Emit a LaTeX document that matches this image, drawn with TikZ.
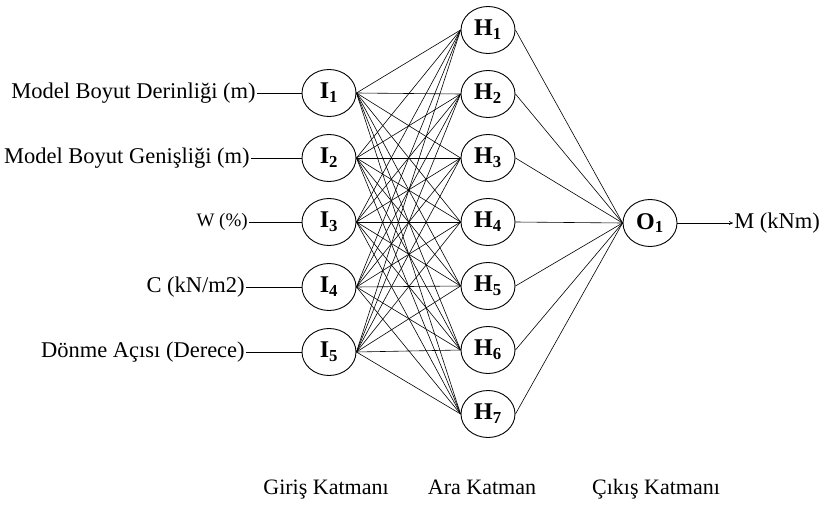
\documentclass[tikz,border=0pt]{standalone}
\usepackage{fontspec}
\setmainfont{Liberation Serif}
\usetikzlibrary{arrows.meta,positioning,calc,shapes.geometric}

\begin{document}
\begin{tikzpicture}[x=1pt,y=-1pt,>={To[length=4pt,width=4pt]},line width=0.6pt,
  neu/.style={draw,ellipse,line width=0.9pt,minimum width=54pt,minimum height=47pt,inner sep=0pt,
    font=\fontsize{24}{28}\selectfont\bfseries},
  lbl/.style={font=\fontsize{22.5}{26}\selectfont,inner sep=1pt},
  lay/.style={font=\fontsize{22}{26}\selectfont,anchor=base}]
\useasboundingbox (0,0) rectangle (826,505);
% input layer
\node[neu] (I1) at (329,93)  {I\textsubscript{1}};
\node[neu] (I2) at (329,158) {I\textsubscript{2}};
\node[neu] (I3) at (329,222) {I\textsubscript{3}};
\node[neu] (I4) at (329,287) {I\textsubscript{4}};
\node[neu] (I5) at (329,352) {I\textsubscript{5}};
% hidden layer
\foreach \k in {1,...,7}
  \node[neu] (H\k) at (488,{30+64*(\k-1)}) {H\textsubscript{\k}};
% output layer
\node[neu] (O1) at (650,223) {O\textsubscript{1}};
% input labels
\node[lbl,anchor=east] (L1) at (257,93)  {Model Boyut Derinliği (m)};
\node[lbl,anchor=east] (L2) at (251,158) {Model Boyut Genişliği (m)};
\node[lbl,anchor=east,font=\fontsize{19}{22}\selectfont] (L3) at (249,222) {W (\%)};
\node[lbl,anchor=east] (L4) at (246,287) {C (kN/m2)};
\node[lbl,anchor=east] (L5) at (246,352) {Dönme Açısı (Derece)};
\foreach \k in {1,...,5}
  \draw (L\k.east) -- (I\k.west);
% weights
\foreach \i in {1,...,5}
  \foreach \h in {1,...,7}
    \draw (I\i.east) -- (H\h.west);
\foreach \h in {1,...,7}
  \draw (H\h.east) -- (O1.west);
% output
\node[lbl,anchor=west] (M) at (733,223) {M (kNm)};
\draw[->] (O1.east) -- (M.west);
% layer names
\node[lay] (gk) at (326,494) {Giriş Katmanı};
\node[lay] (ak) at (482,494) {Ara Katman};
\node[lay] (ck) at (656,494) {Çıkış Katmanı};
\end{tikzpicture}
\end{document}
